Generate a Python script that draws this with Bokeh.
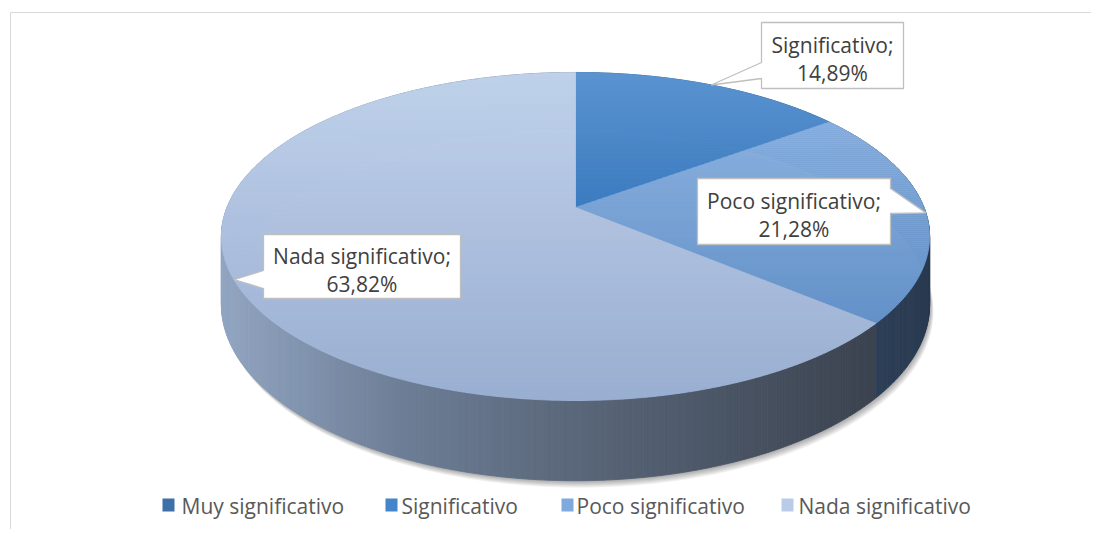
import numpy as np
from bokeh.plotting import figure
from bokeh.models import Range1d
from bokeh.embed import file_html
from bokeh.resources import INLINE
from bokeh.core.properties import value

# ---------------- data ----------------
categories = ["Muy significativo", "Significativo", "Poco significativo", "Nada significativo"]
percentages = [0.0, 14.89, 21.28, 63.82]
legend_colors = ["#3d6fa8", "#4585c9", "#7eaadd", "#b8cce8"]

# ---------------- styles / layout ----------------
top_grad = {
    "Muy significativo": ("#3d6fa8", "#335f92"),
    "Significativo": ("#5c95d1", "#3b7bc1"),
    "Poco significativo": ("#8ab1e1", "#6191ca"),
    "Nada significativo": ("#c0d2eb", "#9aafd2"),
}
wall_stops = {
    "Muy significativo": [(200, "#2c4a70"), (950, "#22374f")],
    "Significativo": [(200, "#2f5d91"), (950, "#27507d")],
    "Poco significativo": [(820, "#30445f"), (940, "#29394f")],
    "Nada significativo": [(220, "#93a6c3"), (400, "#6d7e96"), (575, "#5a677a"), (870, "#3b4350")],
}
# label boxes: (left, right, top, bottom, pointer base y0, pointer base y1)
label_boxes = {
    "Significativo": (761, 903, 22, 88, 62, 78),
    "Poco significativo": (697, 890, 178, 244, 188, 213),
    "Nada significativo": (263, 460, 234, 298, 270, 288),
}
legend_square_x = [162, 385, 561, 781]
legend_text_x = [181, 401, 576, 798]
LEGEND_Y = 504

CX, CY = 575.0, 207.0
KX, KY, B = 348.5, 158.9, -0.1768
DEPTH = 66.0
FONT = "Open Sans"


def proj(phi, z=0.0):
    """phi: clockwise angle from 12 o'clock (radians); z: 0 top face, 1 bottom face."""
    c = np.sin(phi)
    s = -np.cos(phi)
    w = 1 + B * s
    return CX + KX * c / w, CY + KY * s / w + z * DEPTH / w


def h2r(h):
    return np.array([int(h[i:i + 2], 16) for i in (1, 3, 5)], float)


def r2h(c):
    c = np.clip(c, 0, 255)
    return "#%02x%02x%02x" % tuple(int(round(v)) for v in c)


def interp_color(stops, x):
    if x <= stops[0][0]:
        return stops[0][1]
    if x >= stops[-1][0]:
        return stops[-1][1]
    for (x0, c0), (x1, c1) in zip(stops[:-1], stops[1:]):
        if x0 <= x <= x1:
            t = (x - x0) / (x1 - x0)
            return r2h(h2r(c0) * (1 - t) + h2r(c1) * t)
    return stops[-1][1]


def clip_half(poly, y0, keep_ge):
    out = []
    n = len(poly)
    for i in range(n):
        cur = poly[i]
        prev = poly[i - 1]
        cin = cur[1] >= y0 if keep_ge else cur[1] <= y0
        pin = prev[1] >= y0 if keep_ge else prev[1] <= y0
        if cin:
            if not pin:
                t = (y0 - prev[1]) / (cur[1] - prev[1])
                out.append((prev[0] + t * (cur[0] - prev[0]), y0))
            out.append(cur)
        elif pin:
            t = (y0 - prev[1]) / (cur[1] - prev[1])
            out.append((prev[0] + t * (cur[0] - prev[0]), y0))
    return out


# ---------------- figure ----------------
W, H = 1091, 529
p = figure(width=W, height=H, x_range=Range1d(0, W), y_range=Range1d(H, 0),
           output_backend="svg", toolbar_location=None, min_border=0,
           x_axis_location=None, y_axis_location=None)
p.grid.visible = False
p.outline_line_color = None
p.background_fill_color = "white"
p.border_fill_color = "white"

# chart frame
p.line(x=[10, 10, 1099], y=[540, 12, 12], line_color="#d9d9d9", line_width=1)

# angles
fractions = np.array(percentages) / sum(percentages)
ends = np.cumsum(fractions) * 2 * np.pi
starts = ends - fractions * 2 * np.pi
mids = (starts + ends) / 2

# shadow
phis = np.linspace(0, 2 * np.pi, 361)
bx, by = proj(phis, 1.0)
for k in range(7):
    p.patch(bx + 1 + 0.5 * k, by + 1 + 1.0 * k, fill_color="black", fill_alpha=0.05,
            line_color=None)

# walls
quads_x, quads_y, quads_c, depth = [], [], [], []
for cat, a0, a1 in zip(categories, starts, ends):
    if a1 - a0 <= 0:
        continue
    n = max(2, int(np.degrees(a1 - a0) / 0.5))
    aa = np.linspace(a0, a1, n + 1)
    for u, v in zip(aa[:-1], aa[1:]):
        x0, y0 = proj(u, 0)
        x1, y1 = proj(v, 0)
        x2, y2 = proj(v, 1)
        x3, y3 = proj(u, 1)
        quads_x.append([x0, x1, x2, x3])
        quads_y.append([y0, y1, y2, y3])
        quads_c.append(interp_color(wall_stops[cat], (x0 + x1) / 2))
        depth.append(-np.cos((u + v) / 2))
order = np.argsort(depth)
p.patches([quads_x[i] for i in order], [quads_y[i] for i in order],
          fill_color=[quads_c[i] for i in order], line_color=[quads_c[i] for i in order],
          line_width=0.8)

# top faces with vertical gradient bands
band_xs, band_ys, band_c = [], [], []
for cat, a0, a1 in zip(categories, starts, ends):
    if a1 - a0 <= 0:
        continue
    n = max(2, int(np.degrees(a1 - a0) / 0.5))
    aa = np.linspace(a0, a1, n + 1)
    ax, ay = proj(aa, 0)
    poly = [(CX, CY)] + list(zip(ax, ay))
    ymin = min(pt[1] for pt in poly)
    ymax = max(pt[1] for pt in poly)
    ctop, cbot = top_grad[cat]
    step = 2.0
    yb = ymin
    while yb < ymax:
        ye = min(ymax, yb + step)
        piece = clip_half(clip_half(poly, yb, True), ye, False)
        if len(piece) >= 3:
            t = ((yb + ye) / 2 - ymin) / (ymax - ymin)
            col = r2h(h2r(ctop) * (1 - t) + h2r(cbot) * t)
            band_xs.append([q[0] for q in piece])
            band_ys.append([q[1] for q in piece])
            band_c.append(col)
        yb = ye
p.patches(band_xs, band_ys, fill_color=band_c, line_color=band_c, line_width=0.8)

# callouts
for cat, pct, mid in zip(categories, percentages, mids):
    if cat not in label_boxes:
        continue
    l, r, t, b, py0, py1 = label_boxes[cat]
    tx, ty = proj(mid, 0)
    if tx < l:
        xs = [l, r, r, l, l, tx, l]
        ys = [t, t, b, b, py1, ty, py0]
    else:
        xs = [l, r, r, tx, r, r, l]
        ys = [t, t, py0, ty, py1, b, b]
    p.patch(xs, ys, fill_color="white", line_color="#bfbfbf", line_width=1.3)
    cx_ = (l + r) / 2
    cy_ = (t + b) / 2
    pct_txt = ("%.2f%%" % pct).replace(".", ",")
    p.text(x=[cx_, cx_], y=[cy_ - 10.5, cy_ + 17], text=[cat + ";", pct_txt],
           text_font=value(FONT), text_font_size="21px", text_color="#404040",
           text_align="center", text_baseline="middle")

# legend
for cat, col, sx, tx in zip(categories, legend_colors, legend_square_x, legend_text_x):
    p.quad(left=[sx], right=[sx + 12], top=[LEGEND_Y - 6], bottom=[LEGEND_Y + 7],
           fill_color=col, line_color=None)
    p.text(x=[tx], y=[LEGEND_Y + 1], text=[cat], text_font=value(FONT), text_font_size="21px",
           text_color="#595959", text_align="left", text_baseline="middle")

open("out.html", "w").write(file_html(p, INLINE))
